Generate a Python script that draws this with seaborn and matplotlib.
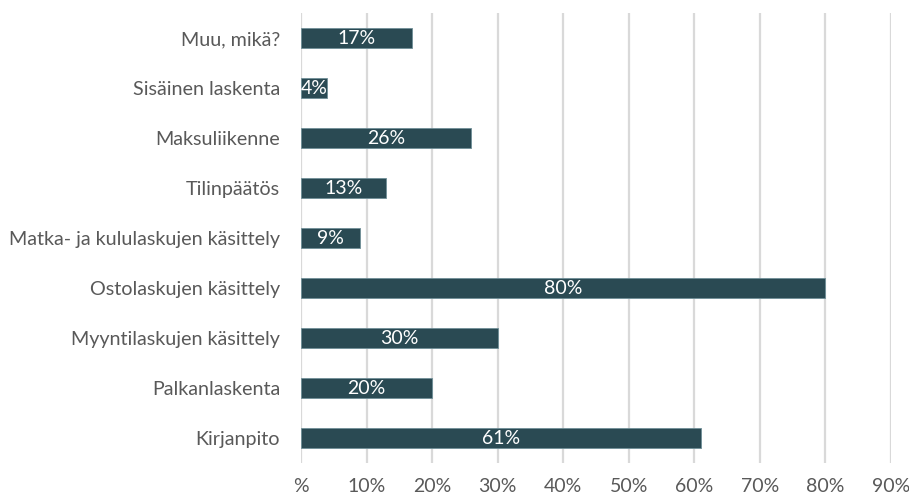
import matplotlib
matplotlib.use("Agg")
import matplotlib.pyplot as plt
import seaborn as sns
import pandas as pd

categories = [
    "Muu, mikä?",
    "Sisäinen laskenta",
    "Maksuliikenne",
    "Tilinpäätös",
    "Matka- ja kululaskujen käsittely",
    "Ostolaskujen käsittely",
    "Myyntilaskujen käsittely",
    "Palkanlaskenta",
    "Kirjanpito",
]
shares = [17, 4, 26, 13, 9, 80, 30, 20, 61]
tick_values = [0, 10, 20, 30, 40, 50, 60, 70, 80, 90]
tick_labels = ["%", "10%", "20%", "30%", "40%", "50%", "60%", "70%", "80%", "90%"]

sns.set_theme(style="white")
plt.rcParams["font.family"] = ["Lato", "DejaVu Sans"]

df = pd.DataFrame({"task": categories, "share": shares})

W, H = 909, 497
fig = plt.figure(figsize=(W / 100, H / 100), dpi=100)
ax = fig.add_axes([301 / W, 1 - 463 / H, (891 - 301) / W, (463 - 13) / H])

bar_color = "#234E5A"
sns.barplot(data=df, x="share", y="task", orient="h", color=bar_color,
            width=0.4, edgecolor="#6F8F98", linewidth=0.6, ax=ax, zorder=3)

ax.set_xlim(0, 90)
ax.set_xticks(tick_values)
ax.set_xticklabels(tick_labels)
ax.xaxis.grid(True, color="#D9D9D9", linewidth=1.6, zorder=0)
ax.yaxis.grid(False)
for s in ax.spines.values():
    s.set_visible(False)
ax.set_xlabel("")
ax.set_ylabel("")
ax.tick_params(axis="x", length=0, pad=11, labelsize=14, labelcolor="#595959")
ax.tick_params(axis="y", length=0, pad=15, labelsize=14.2, labelcolor="#595959")

for patch, val in zip(ax.patches, shares):
    cx = patch.get_x() + patch.get_width() / 2
    cy = patch.get_y() + patch.get_height() / 2
    ax.text(cx, cy, f"{val}%", ha="center", va="center", color="white",
            fontsize=14, zorder=4)

fig.savefig("out.png", dpi=100)
